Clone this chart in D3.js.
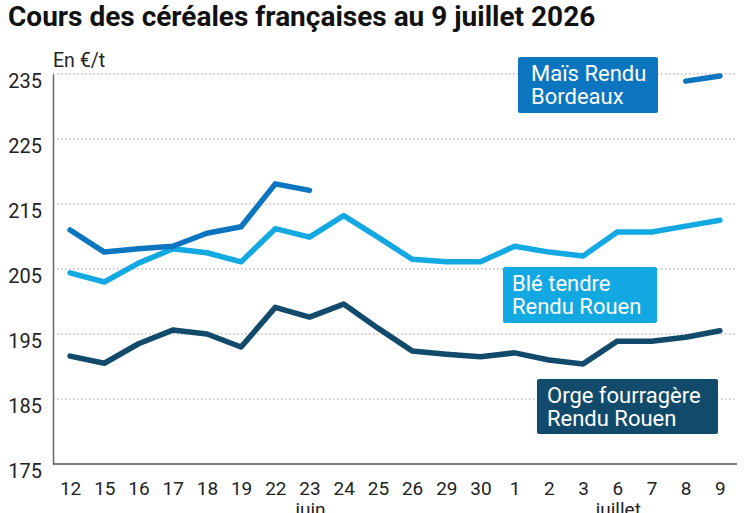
<!DOCTYPE html>
<html>
<head>
<meta charset="utf-8">
<script src="https://cdn.jsdelivr.net/npm/d3@7/dist/d3.min.js"></script>
<style>
  html, body { margin: 0; padding: 0; background: #fff; }
  svg { display: block; font-family: Roboto, "Noto Sans", sans-serif; }
</style>
</head>
<body>
<svg id="chart" width="747" height="513"></svg>
<script>
const days = ["12","15","16","17","18","19","22","23","24","25","26","29","30","1","2","3","6","7","8","9"];
const months = [{label: "juin", at: "23"}, {label: "juillet", at: "6"}];
const yTicks = [175, 185, 195, 205, 215, 225, 235];

const mais = [211.0, 207.6, 208.1, 208.5, 210.5, 211.5, 218.1, 217.1, null, null, null, null, null, null, null, null, null, null, 233.9, 234.7];
const ble  = [204.4, 203.0, 205.9, 208.1, 207.5, 206.1, 211.2, 209.9, 213.2, 209.9, 206.5, 206.1, 206.1, 208.5, 207.6, 207.0, 210.7, 210.7, 211.6, 212.5];
const orge = [191.6, 190.5, 193.5, 195.6, 195.0, 193.0, 199.1, 197.6, 199.6, 195.9, 192.4, 191.9, 191.5, 192.1, 191.0, 190.4, 193.9, 193.9, 194.5, 195.5];

const seriesNames = ["Orge fourragère\nRendu Rouen", "Blé tendre\nRendu Rouen", "Maïs Rendu\nBordeaux"];
const seriesColors = ["#114a6a", "#12a8e2", "#0b76bf"];
const seriesValues = [orge, ble, mais];
const labelBoxes = [
  {x: 537, y: 379, w: 181, h: 55, pad: 10},
  {x: 503, y: 267, w: 154, h: 56, pad: 9},
  {x: 518, y: 57,  w: 140, h: 56, pad: 13}
];

const svg = d3.select("#chart");
const mLeft = 53, mRight = 737, mTop = 74, mBottom = 464;

const x = d3.scalePoint().domain(days).range([mLeft, mRight]).padding(0.5);
const y = d3.scaleLinear().domain([175, 235]).range([mBottom, mTop]);

// Title
svg.append("text")
  .attr("x", 8).attr("y", 26)
  .attr("font-size", 28).attr("font-weight", "bold").attr("fill", "#111")
  .text("Cours des céréales françaises au 9 juillet 2026");

svg.append("text")
  .attr("x", 53).attr("y", 67)
  .attr("font-size", 19.5).attr("fill", "#222")
  .text("En €/t");

// grid
svg.append("g")
  .selectAll("line")
  .data(yTicks.filter(t => t > 175))
  .join("line")
  .attr("x1", mLeft).attr("x2", mRight)
  .attr("y1", d => y(d)).attr("y2", d => y(d))
  .attr("stroke", "#9a9a9a").attr("stroke-width", 1.2)
  .attr("stroke-dasharray", "1.5,2.5");

// y axis
const yAxis = svg.append("g")
  .attr("transform", `translate(${mLeft},0)`)
  .call(d3.axisLeft(y).tickValues(yTicks).tickSize(0).tickPadding(11));
yAxis.select(".domain").attr("stroke", "#666").attr("stroke-width", 1.5);
yAxis.selectAll("text")
  .attr("font-size", 20).attr("fill", "#222")
  .attr("font-family", "Roboto, sans-serif")
  .attr("dy", 13.5);

// x axis
const xAxis = svg.append("g")
  .attr("transform", `translate(0,${mBottom})`)
  .call(d3.axisBottom(x).tickSize(0).tickPadding(0));
xAxis.select(".domain").attr("d", `M${mLeft},0H${mRight}`).attr("stroke", "#555").attr("stroke-width", 1.5);
xAxis.selectAll("text")
  .attr("font-size", 19).attr("fill", "#222")
  .attr("font-family", "Roboto, sans-serif")
  .attr("y", 31).attr("dy", 0);

svg.append("g")
  .selectAll("text")
  .data(months)
  .join("text")
  .attr("x", d => x(d.at) + 1).attr("y", 516)
  .attr("text-anchor", "middle")
  .attr("font-size", 19).attr("fill", "#222")
  .text(d => d.label);

// lines
const line = d3.line()
  .defined(d => d != null)
  .x((d, i) => x(days[i]))
  .y(d => y(d));

svg.append("g")
  .selectAll("path")
  .data(seriesValues)
  .join("path")
  .attr("d", d => line(d))
  .attr("fill", "none")
  .attr("stroke", (d, i) => seriesColors[i])
  .attr("stroke-width", 5.5)
  .attr("stroke-linecap", "round")
  .attr("stroke-linejoin", "round");

// label boxes
const lg = svg.append("g")
  .selectAll("g")
  .data(seriesNames)
  .join("g");
lg.append("rect")
  .attr("x", (d, i) => labelBoxes[i].x)
  .attr("y", (d, i) => labelBoxes[i].y)
  .attr("width", (d, i) => labelBoxes[i].w)
  .attr("height", (d, i) => labelBoxes[i].h)
  .attr("rx", 2)
  .attr("fill", (d, i) => seriesColors[i]);
lg.each(function(d, i) {
  const b = labelBoxes[i];
  const t = d3.select(this).append("text")
    .attr("fill", "#fff").attr("font-size", 22);
  d.split("\n").forEach((s, j) => {
    t.append("tspan")
      .attr("x", b.x + b.pad)
      .attr("y", b.y + 23.5 + j * 23)
      .text(s);
  });
});
</script>
</body>
</html>
